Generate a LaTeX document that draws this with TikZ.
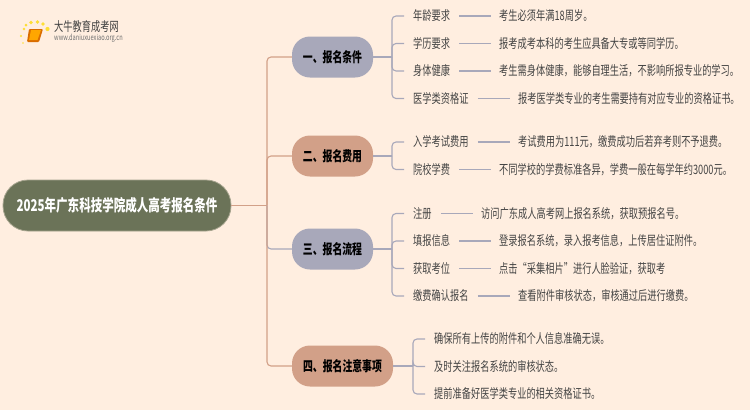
\documentclass[tikz,border=0pt]{standalone}
\usepackage{fontspec}
\setmainfont{Noto Sans CJK SC}[FakeStretch=0.71]
\definecolor{bgc}{HTML}{FFEEE0}
\definecolor{rootc}{HTML}{6B7358}
\definecolor{purp}{HTML}{A8A8BA}
\definecolor{tan}{HTML}{D2A088}
\definecolor{txt}{HTML}{444444}
\tikzset{
 x=1pt,y=-1pt,
 rootbox/.style={draw=rootc!60!bgc,line width=.8pt,fill=rootc,rounded corners=25pt,minimum width=228pt,minimum height=51pt,inner sep=0pt,text=white,font=\fontsize{16.2}{16}\selectfont\bfseries},
 secbox/.style={rounded corners=18pt,minimum height=41pt,inner sep=0pt,text=black,font=\fontsize{13.9}{14}\selectfont\bfseries},
 leaf/.style={anchor=west,inner sep=0pt,text=txt,font=\fontsize{13}{13}\selectfont},
 plink/.style={draw=purp,line width=1.1pt,rounded corners=4pt},
 tlink/.style={draw=tan,line width=1.1pt,rounded corners=4pt},
}
\begin{document}
\begin{tikzpicture}
\useasboundingbox[fill=bgc] (0,0) rectangle (750,410);
% logo
\foreach \a/\b/\r in {24/29/1.3,21/36/1.1,23/43/.9,26/25/1.5,31/22.5/1.8,37.5/22/1.9,43/24/1.9,47.5/29/2.1}
  \fill[yellow!75!orange!80!white] (\a,\b) circle (\r);
\fill[orange!85!black,rounded corners=1pt] (29,29) -- (43,29) -- (39,42) -- (27,42) -- cycle;
\fill[orange!70!yellow] (31,30) -- (41,30) -- (37.5,40) -- (29,40) -- cycle;
\node[anchor=west,inner sep=0pt,text=black!75,font=\fontsize{13}{13}\selectfont] (logotext) at (54,27) {大牛教育成考网};
\node[anchor=west,inner sep=0pt,text=black!55,font=\fontsize{8}{8}\selectfont] (logourl) at (54,38.5) {www.daniuxuexiao.org.cn};
% nodes
\node[rootbox] (root) at (117,205.5) {2025年广东科技学院成人高考报名条件};
\node[secbox,fill=purp,minimum width=81pt] (s1) at (332.5,57) {一、报名条件};
\node[secbox,fill=tan,minimum width=81pt] (s2) at (332.5,156) {二、报名费用};
\node[secbox,fill=purp,minimum width=81pt] (s3) at (332.5,249) {三、报名流程};
\node[secbox,fill=tan,minimum width=101pt] (s4) at (342.5,366) {四、报名注意事项};
\coordinate (tr) at (267,205.5);
\draw[tlink] (root.east) -- (tr);
\draw[tlink] (tr) |- (s1.west);
\draw[tlink] (tr) |- (s2.west);
\draw[plink] (tr) |- (s3.west);
\draw[tlink] (tr) |- (s4.west);
% leaves
\node[leaf] (a1) at (413,16) {年龄要求};
\node[leaf] (a2) at (413,43.5) {学历要求};
\node[leaf] (a3) at (413,71) {身体健康};
\node[leaf] (a4) at (413,98.5) {医学类资格证};
\node[leaf] (a1d) at (499,16) {考生必须年满18周岁。};
\node[leaf] (a2d) at (499,43.5) {报考成考本科的考生应具备大专或等同学历。};
\node[leaf] (a3d) at (499,71) {考生需身体健康，能够自理生活，不影响所报专业的学习。};
\node[leaf] (a4d) at (518,98.5) {报考医学类专业的考生需要持有对应专业的资格证书。};
\node[leaf] (b1) at (413,142) {入学考试费用};
\node[leaf] (b2) at (413,169.5) {院校学费};
\node[leaf] (b1d) at (518,142) {考试费用为111元，缴费成功后若弃考则不予退费。};
\node[leaf] (b2d) at (499,169.5) {不同学校的学费标准各异，学费一般在每学年约3000元。};
\node[leaf] (c1) at (413,213.5) {注册};
\node[leaf] (c2) at (413,241) {填报信息};
\node[leaf] (c3) at (413,268.5) {获取考位};
\node[leaf] (c4) at (413,296) {缴费确认报名};
\node[leaf] (c1d) at (481,213.5) {访问广东成人高考网上报名系统，获取预报名号。};
\node[leaf] (c2d) at (499,241) {登录报名系统，录入报考信息，上传居住证附件。};
\node[leaf] (c3d) at (499,268.5) {点击“采集相片”进行人脸验证，获取考};
\node[leaf] (c4d) at (518,296) {查看附件审核状态，审核通过后进行缴费。};
\node[leaf] (d1) at (434,339) {确保所有上传的附件和个人信息准确无误。};
\node[leaf] (d2) at (434,366.5) {及时关注报名系统的审核状态。};
\node[leaf] (d3) at (434,394) {提前准备好医学类专业的相关资格证书。};
% bracket links
\foreach \s/\x/\e/\list in {s1/392/404/{a1,a2,a3,a4},s2/392/404/{b1,b2},s3/392/404/{c1,c2,c3,c4},s4/413/425/{d1,d2,d3}}{
  \coordinate (j) at (\x,0);
  \draw[plink] (\s.east) -- (j |- \s.east);
  \foreach \l in \list {
    \coordinate (k) at (\e,0);
    \draw[plink] (j |- \s.east) |- (k |- \l.west);
  }
}
% leaf to detail
\foreach \l in {a1,a2,a3,a4,b1,b2,c1,c2,c3,c4}{
  \draw[plink] ([xshift=9pt]\l.east) -- ([xshift=-8pt]\l d.west);
}
\end{tikzpicture}
\end{document}
